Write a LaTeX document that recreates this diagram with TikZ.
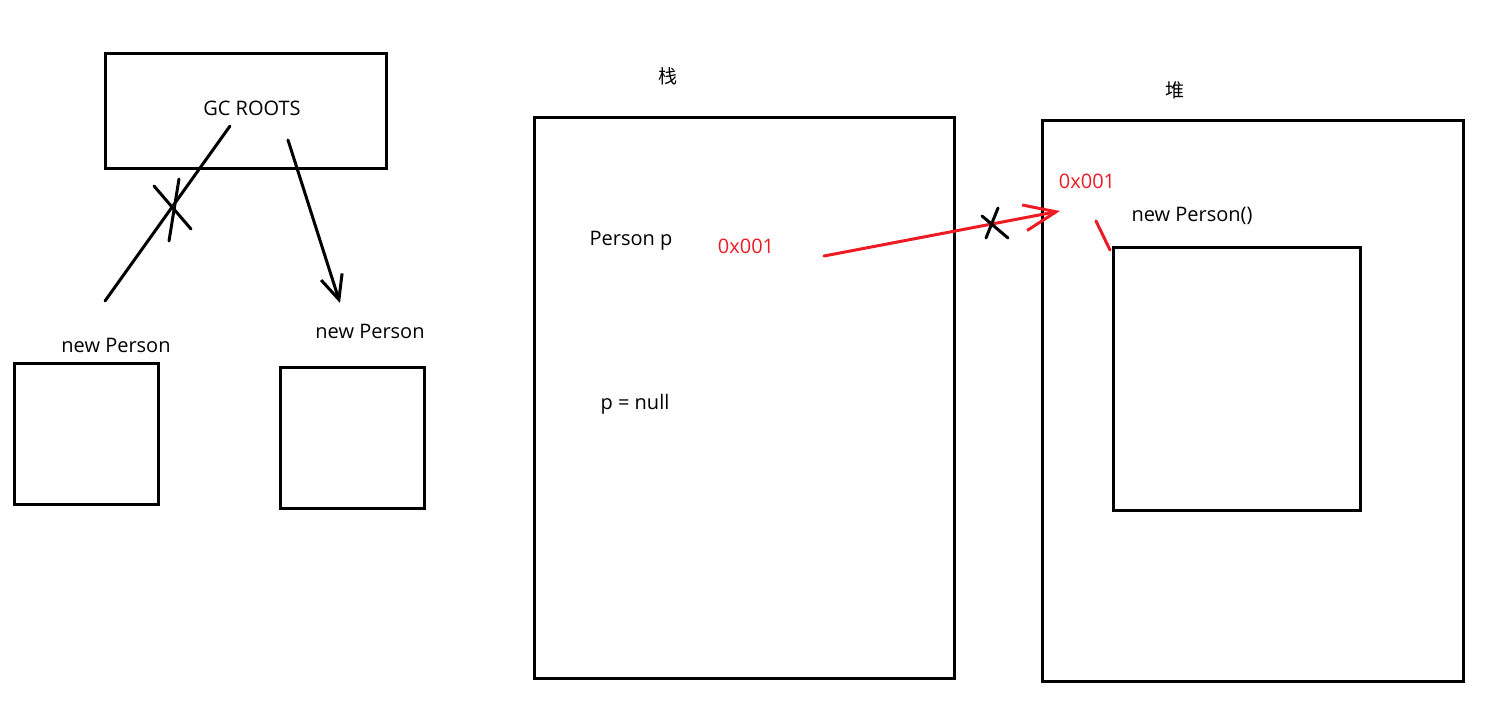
\documentclass[tikz,border=0pt]{standalone}
\usepackage{fontspec}
\setmainfont{Open Sans}
\newfontfamily\cjk{Noto Sans CJK SC}
\usetikzlibrary{arrows.meta}
\definecolor{penred}{RGB}{237,28,36}
\tikzset{
  pen/.style={line width=3pt, line cap=round},
  redpen/.style={pen, draw=penred},
  boxed/.style={draw, line width=3pt, inner sep=0pt, outer sep=0pt, anchor=north west},
  lbl/.style={font=\fontsize{20}{22}\selectfont, inner sep=0pt},
  barb/.style={-{Straight Barb[length=24pt, width=22pt, line width=3pt]}},
  redbarb/.style={-{Straight Barb[length=32pt, width=26pt, line width=3pt]}}
}
\begin{document}
\begin{tikzpicture}[x=1pt, y=-1pt]
\useasboundingbox (0,0) rectangle (1511,710);

% GC roots and the two objects
\node[boxed, minimum width=281pt, minimum height=115pt] (roots) at (105,53) {};
\node[lbl] (rootstxt) at (252,108) {GC ROOTS};
\node[lbl] (lefttxt) at (116,345) {new Person};
\node[boxed, minimum width=144pt, minimum height=141pt] (leftobj) at (14,363) {};
\node[lbl] (righttxt) at (370,331) {new Person};
\node[boxed, minimum width=144pt, minimum height=141pt] (rightobj) at (280,367) {};

\coordinate (cutfrom) at (230,126);
\coordinate (cutto) at (105,301);
\coordinate (reffrom) at (288,140);
\coordinate (refto) at (340,303);
\draw[pen] (cutfrom) -- (cutto);
\draw[pen] (154,186) -- (191,229)
           (179,179) -- (169,241);
\draw[pen, barb] (reffrom) -- (refto);

% stack
\node[lbl, font=\cjk\fontsize{19}{21}\selectfont] (stacktxt) at (668,76) {栈};
\node[boxed, minimum width=420pt, minimum height=561pt] (stack) at (534,117) {};
\node[lbl] (vartxt) at (631,241) {Person p};
\node[lbl, text=penred] (addrtxt) at (746,246) {0x001};
\node[lbl] (nulltxt) at (635,404) {p = null};

% heap
\node[lbl, font=\cjk\fontsize{19}{21}\selectfont] (heaptxt) at (1175,90) {堆};
\node[boxed, minimum width=421pt, minimum height=561pt] (heap) at (1042,120) {};
\node[lbl, text=penred] (objaddr) at (1087,181) {0x001};
\node[lbl] (objtxt) at (1192,216) {new Person()};
\node[boxed, minimum width=247pt, minimum height=263pt] (obj) at (1113,247) {};

\coordinate (ptrfrom) at (824,256);
\coordinate (ptrto) at (1060,211);
\draw[redpen, redbarb] (ptrfrom) -- (ptrto);
\draw[pen] (982,216) -- (1008,238)
           (998,208) -- (986,238);
\draw[redpen] (1096,221) -- (1110,250);
\end{tikzpicture}
\end{document}
